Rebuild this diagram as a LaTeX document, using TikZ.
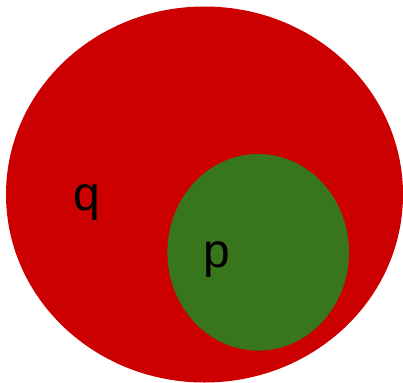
\documentclass[tikz,border=0pt]{standalone}
\usepackage{fontspec}
\setmainfont{Liberation Sans}
\usepackage{tikz}
\usepackage{xcolor}
\definecolor{setred}{HTML}{CC0000}
\definecolor{setgreen}{HTML}{38761D}

\begin{document}
\begin{tikzpicture}[x=1pt,y=-1pt]
\useasboundingbox (0,0) rectangle (403,382);
\fill[setred] (204.5,194.5) ellipse (198.5 and 188);
\fill[setgreen] (258.2,252.3) ellipse (90.8 and 98.3);
\node[anchor=base west,inner sep=0pt,font=\fontsize{48}{50}\selectfont] (q) at (73.5,210) {q};
\node[anchor=base west,inner sep=0pt,font=\fontsize{48}{50}\selectfont] (p) at (203,267) {p};
\end{tikzpicture}
\end{document}
